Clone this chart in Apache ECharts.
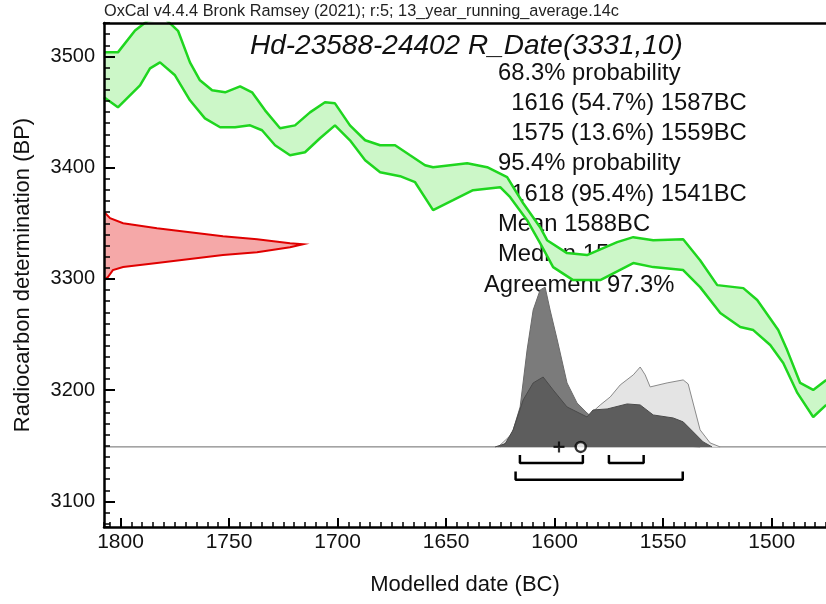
<!DOCTYPE html>
<html lang="en">
<head>
<meta charset="UTF-8">
<title>Hd-23588-24402 R_Date</title>
<script src="https://cdn.jsdelivr.net/npm/echarts@6/dist/echarts.min.js"></script>
<style>
    html, body { margin: 0; padding: 0; background: #fff; }
    #chart { width: 826px; height: 604px; }
</style>
</head>
<body>
<div id="chart"></div>
<script>
    // axis ticks (labels shown only at these steps)
    var yearLabelStep = 50;
    var bpLabelStep = 100;

    // calibration curve band (year BC, BP)
    var calTop = [
        [1807.6, 3503.6], [1801.2, 3503.6], [1793.3, 3523.3], [1787.3, 3532.3], [1779.5, 3534],
        [1773.5, 3523], [1768, 3494.6], [1763.4, 3478.5], [1757.8, 3469.5], [1751.8, 3467.7],
        [1744.9, 3473], [1739.4, 3467.7], [1733.4, 3451.5], [1726.5, 3435.4], [1719.6, 3438],
        [1712.7, 3449.7], [1705.8, 3458.7], [1701.2, 3457.8], [1694.3, 3438], [1687.3, 3424.6],
        [1680.4, 3420.1], [1673.5, 3420.1], [1666.6, 3411.1], [1659.7, 3402.2], [1656, 3400.4],
        [1640.3, 3404], [1631.1, 3400.4], [1621.9, 3391.4], [1614.5, 3368], [1606.7, 3346.5],
        [1603.5, 3334.8], [1594.3, 3323.2], [1585.1, 3321.4], [1571.2, 3333], [1563.8, 3337.5],
        [1554.6, 3334.8], [1540.8, 3335.7], [1533, 3316.8], [1525.1, 3294.4], [1513.1, 3291.7],
        [1506.7, 3281], [1497, 3254], [1492.9, 3236], [1486.9, 3206.5], [1480.9, 3200.2],
        [1474.9, 3209.2]
    ];
    var calBottom = [
        [1807.6, 3463.2], [1801.2, 3454.2], [1791, 3474], [1786.4, 3489.2], [1781.8, 3494.6],
        [1774.9, 3483], [1768, 3460.5], [1761.1, 3444.3], [1754.1, 3436.3], [1747.2, 3436.3],
        [1740.3, 3438], [1734.8, 3433.6], [1728.8, 3420.1], [1721.9, 3411.1], [1715, 3413.8],
        [1708.1, 3426.4], [1701.2, 3438], [1694.3, 3424.6], [1687.3, 3406.6], [1680.4, 3395.9],
        [1671.2, 3392.3], [1664.3, 3386.9], [1656, 3361.8], [1646.8, 3370.7], [1637.6, 3379.7],
        [1625.1, 3382.4], [1620.5, 3373.4], [1612.7, 3352.8], [1606.7, 3332.1], [1600.7, 3310.6],
        [1591.5, 3298.9], [1579, 3298.9], [1563.8, 3314.2], [1554.6, 3310.6], [1540.8, 3307.9],
        [1533, 3292.6], [1523.7, 3269.3], [1514.5, 3256.7], [1508.5, 3254], [1500.7, 3240.6],
        [1494.7, 3224.4], [1488.2, 3197.5], [1480.9, 3175.9], [1474.9, 3186.7]
    ];

    // radiocarbon measurement 3331 +/- 10 drawn on the BP axis
    var measTop = [
        [1807.6, 3360.2], [1804.8, 3354.6], [1798.8, 3350.1], [1783.2, 3345.6], [1768, 3342],
        [1752.8, 3338.4], [1737.1, 3335.7], [1721.9, 3332.1], [1715.9, 3331.2]
    ];
    var measBottom = [
        [1721.9, 3328.5], [1737.1, 3324], [1752.8, 3321.4], [1768, 3317.8], [1783.2, 3314.2],
        [1798.8, 3310.6], [1803.5, 3307.9], [1805.8, 3301.6], [1807.6, 3298.9]
    ];

    // calibrated distributions above the base line
    var baseBP = 3149;
    var distLight = [
        [1626, 3149], [1620, 3160], [1612, 3167], [1600, 3170], [1585.1, 3175.9], [1579, 3186.7],
        [1574.4, 3193.9], [1569.8, 3204.7], [1563.8, 3213.7], [1560.6, 3220.8], [1558.3, 3213.7],
        [1556, 3202.9], [1548.2, 3206.5], [1540.8, 3209.2], [1538.5, 3205.6], [1533, 3164.3],
        [1528.4, 3152.6], [1523.8, 3149]
    ];
    var distPeak = [
        [1625.1, 3149], [1620.5, 3155.3], [1615.9, 3184.9], [1612.7, 3236.1], [1609.9, 3272],
        [1606.7, 3290], [1604.4, 3292.6], [1602.1, 3272], [1598.8, 3245.1], [1594.3, 3206.5],
        [1589.7, 3188.5], [1585.1, 3179.5], [1581.4, 3173.3], [1574.4, 3164.3], [1560.6, 3155.3],
        [1542.2, 3150], [1533, 3149]
    ];
    var distBroad = [
        [1627.4, 3149], [1622.8, 3151.8], [1619.1, 3164.3], [1614.5, 3191.2], [1609.9, 3206.5],
        [1605.3, 3211.8], [1600.7, 3200.2], [1594.3, 3184.9], [1585.1, 3175.9], [1582.3, 3182.2],
        [1575.8, 3183.1], [1566.6, 3187.6], [1560.6, 3186.7], [1554.6, 3177.7], [1545.4, 3175],
        [1540.8, 3171.5], [1536.2, 3162.5], [1531.6, 3153.5], [1527.5, 3149]
    ];

    // ranges (BC), mean and median
    var ranges68 = [[1616, 1587], [1575, 1559]];
    var ranges95 = [[1618, 1541]];
    var meanBC = 1588;
    var medianBC = 1598;

    var infoLines = [
        '68.3% probability',
        '  1616 (54.7%) 1587BC',
        '  1575 (13.6%) 1559BC',
        '95.4% probability',
        '  1618 (95.4%) 1541BC',
        'Mean 1588BC',
        'Median 1598BC',
        'Agreement 97.3%'
    ];

    var FONT = '"Liberation Sans", Arial, Helvetica, sans-serif';
    var X_MIN = 1475, X_MAX = 1807.6;
    var Y_MIN = 3077, Y_MAX = 3530;

    var polygon = function (points, fill, stroke, lw) {
        return function (params, api) {
            return {
                type: 'polygon',
                shape: { points: points.map(function (p) { return api.coord(p); }) },
                style: { fill: fill, stroke: stroke, lineWidth: lw }
            };
        };
    };

    var bracket = function (r, top, bottom) {
        return [[r[0], top], [r[0], bottom], [r[1], bottom], [r[1], top]];
    };

    var lineSeries = function (data, color, width, z) {
        return {
            type: 'line', data: data, showSymbol: false, silent: true, animation: false,
            lineStyle: { color: color, width: width }, z: z || 3
        };
    };

    var areaSeries = function (data, fill, stroke, z) {
        return {
            type: 'line', data: data, showSymbol: false, silent: true, animation: false,
            lineStyle: { color: stroke, width: 1 },
            areaStyle: { color: fill, opacity: 1, origin: baseBP }, z: z
        };
    };

    var series = [
        {
            type: 'custom', data: [[1650, 3300]], clip: true, silent: true, animation: false, z: 2,
            renderItem: polygon(calTop.concat(calBottom.slice().reverse()), '#ccf7c8', null, 0)
        },
        lineSeries(calTop, '#1fd61f', 2.5),
        lineSeries(calBottom, '#1fd61f', 2.5),
        {
            type: 'custom', data: [[1750, 3330]], clip: true, silent: true, animation: false, z: 3,
            renderItem: polygon(measTop.concat(measBottom), '#f5a8a8', '#e00000', 2)
        },
        lineSeries([[X_MAX, baseBP], [X_MIN, baseBP]], '#6a6a6a', 1, 3),
        areaSeries(distLight, '#e4e4e4', '#8a8a8a', 4),
        areaSeries(distPeak, '#7b7b7b', '#6a6a6a', 5),
        areaSeries(distBroad, '#5d5d5d', '#4a4a4a', 6)
    ];
    ranges68.forEach(function (r) { series.push(lineSeries(bracket(r, 3141.8, 3134.6), '#000', 2.5, 7)); });
    ranges95.forEach(function (r) { series.push(lineSeries(bracket(r, 3126.8, 3119.4), '#000', 2.5, 7)); });
    series.push({
        type: 'scatter', data: [[medianBC, baseBP]], symbol: 'path://M4,0h2v4h4v2h-4v4h-2v-4h-4v-2h4z',
        symbolSize: 11, itemStyle: { color: '#000' }, silent: true, animation: false, z: 8
    });
    series.push({
        type: 'scatter', data: [[meanBC, baseBP]], symbol: 'circle', symbolSize: 10,
        itemStyle: { color: '#fff', borderColor: '#000', borderWidth: 2.5 }, silent: true, animation: false, z: 8
    });

    var graphics = [
        {
            type: 'text', x: 104, y: 12,
            style: { text: 'OxCal v4.4.4 Bronk Ramsey (2021); r:5; 13_year_running_average.14c',
                font: '16.3px ' + FONT, fill: '#222', verticalAlign: 'middle' }
        },
        {
            type: 'text', x: 250, y: 46,
            style: { text: 'Hd-23588-24402 R_Date(3331,10)', font: 'italic 28px ' + FONT,
                fill: '#111', verticalAlign: 'middle' }
        }
    ];
    infoLines.forEach(function (t, i) {
        graphics.push({
            type: 'text', x: (i === 7 ? 484 : 498), y: 73 + i * 30.3,
            style: { text: t, font: '23.8px ' + FONT, fill: '#111', verticalAlign: 'middle' }
        });
    });

    var labelEvery = function (step) {
        return function (v) { return (Math.abs(v % step) < 1e-6) ? String(v) : ''; };
    };

    // tick-only axes: no interval set, splitNumber gives the nice step
    var xAxisBase = { type: 'value', min: X_MIN, max: X_MAX, inverse: true, z: 10, splitLine: { show: false } };
    var yAxisBase = { type: 'value', min: Y_MIN, max: Y_MAX, z: 10, splitLine: { show: false } };

    var chart = echarts.init(document.getElementById('chart'));
    chart.setOption({
        animation: false,
        backgroundColor: '#fff',
        grid: { left: 104, right: 0, top: 23, bottom: 77, containLabel: false, outerBoundsMode: 'none' },
        xAxis: [
            Object.assign({}, xAxisBase, {
                position: 'bottom', splitNumber: 7,
                name: 'Modelled date (BC)', nameLocation: 'middle', nameGap: 47,
                nameTextStyle: { fontFamily: FONT, fontSize: 22, color: '#111' },
                axisLine: { lineStyle: { color: '#000', width: 2.5 } },
                axisTick: { inside: true, length: 9, lineStyle: { color: '#000', width: 2 } },
                axisLabel: { formatter: labelEvery(yearLabelStep), showMinLabel: false, showMaxLabel: false,
                    fontFamily: FONT, fontSize: 21, color: '#111', margin: 5 }
            }),
            Object.assign({}, xAxisBase, {
                position: 'bottom', splitNumber: 66,
                axisLine: { show: false },
                axisTick: { inside: true, length: 5, lineStyle: { color: '#000', width: 1.5 } },
                axisLabel: { show: false }
            }),
            Object.assign({}, xAxisBase, {
                position: 'top',
                axisLine: { lineStyle: { color: '#000', width: 2.5 } },
                axisTick: { show: false }, axisLabel: { show: false }
            })
        ],
        yAxis: [
            Object.assign({}, yAxisBase, {
                position: 'left', splitNumber: 5,
                name: 'Radiocarbon determination (BP)', nameLocation: 'middle', nameGap: 70,
                nameTextStyle: { fontFamily: FONT, fontSize: 22, color: '#111' },
                axisLine: { lineStyle: { color: '#000', width: 2.5 } },
                axisTick: { inside: true, length: 11, lineStyle: { color: '#000', width: 2 } },
                axisLabel: { formatter: labelEvery(bpLabelStep), showMinLabel: false, showMaxLabel: false,
                    fontFamily: FONT, fontSize: 20, color: '#111', margin: 9 }
            }),
            Object.assign({}, yAxisBase, {
                position: 'left', offset: 0, splitNumber: 45,
                axisLine: { show: false },
                axisTick: { inside: true, length: 6, lineStyle: { color: '#000', width: 1.5 } },
                axisLabel: { show: false }
            })
        ],
        series: series,
        graphic: graphics
    });
</script>
</body>
</html>
